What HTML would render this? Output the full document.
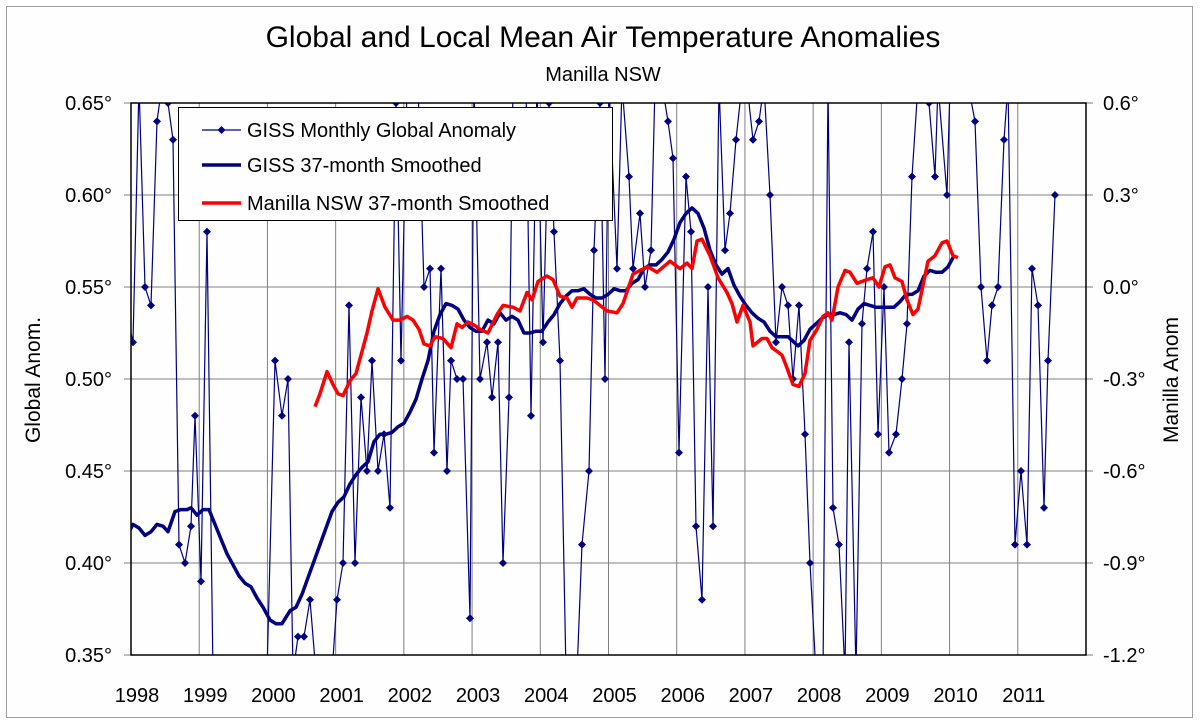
<!DOCTYPE html>
<html><head><meta charset="utf-8"><style>
html,body{margin:0;padding:0;background:#fff;width:1200px;height:721px;overflow:hidden;}
svg{display:block;font-family:"Liberation Sans",Arial,sans-serif;}
</style></head><body>
<svg id="s" width="1200" height="721" viewBox="0 0 1200 721" xmlns="http://www.w3.org/2000/svg">
<rect x="0" y="0" width="1200" height="721" fill="#fdfefd"/>
<rect x="6.5" y="6.5" width="1186" height="711" fill="none" stroke="#a0a0a0" stroke-width="1"/>
<text x="603" y="47" font-size="30" text-anchor="middle">Global and Local Mean Air Temperature Anomalies</text>
<text x="603" y="81" font-size="20" text-anchor="middle">Manilla NSW</text>
<text transform="translate(40,380) rotate(-90)" font-size="21" text-anchor="middle">Global Anom.</text>
<text transform="translate(1178,380) rotate(-90)" font-size="21" text-anchor="middle">Manilla Anom</text>
<g id="grid"></g>
<defs><clipPath id="cp"><rect x="131" y="103" width="955" height="552"/></clipPath></defs>
<g id="data" clip-path="url(#cp)"></g>
<rect x="131" y="103" width="955" height="552" fill="none" stroke="#000" stroke-width="1.5"/>
<g id="leg">
<rect x="178.5" y="107.5" width="434" height="113" fill="#fdfefd" stroke="#000" stroke-width="1"/>
<line x1="202" y1="130" x2="241" y2="130" stroke="#000080" stroke-width="1.2"/>
<path d="M221.5 126 L225.5 130 L221.5 134 L217.5 130Z" fill="#000080"/>
<text x="247" y="137" font-size="20">GISS Monthly Global Anomaly</text>
<line x1="202" y1="165" x2="241" y2="165" stroke="#000080" stroke-width="3.5"/>
<text x="247" y="172" font-size="20">GISS 37-month Smoothed</text>
<line x1="202" y1="203" x2="241" y2="203" stroke="#ff0000" stroke-width="3.5"/>
<text x="247" y="210" font-size="20">Manilla NSW 37-month Smoothed</text>
</g>
</svg>
<script>
(function(){
var NS="http://www.w3.org/2000/svg";
function el(p,t,a,txt){var e=document.createElementNS(NS,t);for(var k in a)e.setAttribute(k,a[k]);if(txt!=null)e.textContent=txt;p.appendChild(e);return e;}
var T0=103,B0=655,L=131,R=1086;
function Y(v){return T0+(0.65-v)*(B0-T0)/0.30;}
var g=document.getElementById('grid');
var ll=["0.65°","0.60°","0.55°","0.50°","0.45°","0.40°","0.35°"];
var rl=["0.6°","0.3°","0.0°","-0.3°","-0.6°","-0.9°","-1.2°"];
for(var i=0;i<7;i++){var y=T0+i*(B0-T0)/6;
 if(i>0&&i<6)el(g,'line',{x1:L,x2:R,y1:y,y2:y,stroke:'#808080','stroke-width':1});
 el(g,'line',{x1:124,x2:L,y1:y,y2:y,stroke:'#808080'});
 el(g,'line',{x1:R,x2:1093,y1:y,y2:y,stroke:'#808080'});
 el(g,'text',{x:112,y:y+7,'font-size':20,'text-anchor':'end'},ll[i]);
 el(g,'text',{x:1103,y:y+7,'font-size':20},rl[i]);}
var yw=(R-L)/14;
for(var j=0;j<14;j++){var x=L+j*yw;
 if(j>0)el(g,'line',{x1:x,x2:x,y1:T0,y2:B0,stroke:'#808080','stroke-width':1});
 el(g,'text',{x:x+6,y:702,'font-size':20,'text-anchor':'middle'},String(1998+j));}
var H=0.66,Lo=0.34;
var m=[[127,0.535],[133,.52],[139,H],[145,.55],[151,.54],[157,.64],[162,H],[168,.65],[173,.63],[179,.41],[185,.40],[191,.42],[195,.48],[201,.39],[207,.58],[213,Lo],[219,Lo],[225,Lo],[231,Lo],[237,Lo],[243,Lo],[249,Lo],[255,Lo],[261,Lo],[267,Lo],[275,.51],[282,.48],[288,.50],[293,Lo],[298,.36],[304,.36],[310,.38],[316,Lo],[321,Lo],[327,Lo],[332,Lo],[337,.38],[343,.40],[349,.54],[355,.40],[361,.49],[367,.45],[372,.51],[378,.45],[384,.47],[390,.43],[396,.65],[401,.51],[407,H],[413,H],[418,H],[424,.55],[430,.56],[434,.46],[441,.56],[447,.45],[451,.51],[457,.50],[463,.50],[470,.37],[474,H],[480,.50],[487,.52],[492,.49],[498,.52],[503,.40],[509,.49],[513,H],[519,H],[526,H],[531,.48],[537,H],[543,.52],[549,.65],[554,.58],[560,.51],[566,Lo],[571,Lo],[577,Lo],[582,.41],[589,.45],[594,.57],[600,.65],[605,.50],[609,H],[617,.56],[622,H],[629,.61],[633,.56],[640,.59],[645,.55],[651,.57],[655,H],[662,H],[668,.64],[673,.62],[679,.46],[686,.61],[691,.58],[696,.42],[702,.38],[708,.55],[713,.42],[719,H],[725,.57],[730,.59],[736,.63],[742,H],[747,H],[753,.63],[759,.64],[764,H],[770,.60],[776,.52],[782,.55],[788,.54],[793,.50],[799,.54],[805,.47],[810,.40],[816,Lo],[823,Lo],[828,H],[833,.43],[839,.41],[845,Lo],[849,.52],[856,Lo],[862,.53],[867,.56],[873,.58],[878,.47],[884,.55],[889,.46],[896,.47],[902,.50],[907,.53],[912,.61],[918,H],[923,H],[929,.65],[935,.61],[938,H],[947,.60],[950,H],[956,H],[962,H],[968,H],[975,.64],[981,.55],[987,.51],[992,.54],[998,.55],[1004,.63],[1008,H],[1015,.41],[1021,.45],[1027,.41],[1032,.56],[1038,.54],[1044,.43],[1048,.51],[1055,.60]];
var sb=[[127,.415],[133,.421],[139,.419],[145,.415],[151,.417],[157,.421],[163,.420],[168,.417],[175,.428],[181,.429],[187,.429],[191,.430],[197,.426],[203,.429],[209,.429],[215,.421],[221,.413],[227,.405],[233,.399],[239,.393],[245,.389],[251,.387],[257,.381],[263,.376],[270,.369],[276,.367],[282,.367],[290,.374],[296,.376],[302,.383],[308,.392],[314,.401],[320,.410],[326,.419],[332,.428],[338,.433],[344,.436],[350,.443],[356,.448],[362,.452],[368,.455],[374,.466],[380,.470],[386,.470],[392,.471],[398,.474],[404,.476],[410,.482],[416,.489],[422,.500],[428,.510],[434,.526],[440,.535],[446,.541],[452,.540],[458,.538],[464,.532],[470,.528],[476,.526],[482,.526],[488,.532],[494,.530],[500,.536],[506,.532],[512,.534],[518,.532],[524,.525],[530,.525],[536,.526],[542,.526],[548,.531],[554,.535],[560,.541],[566,.545],[572,.548],[578,.548],[584,.549],[590,.546],[596,.544],[602,.544],[608,.546],[614,.549],[620,.548],[626,.548],[632,.552],[638,.554],[644,.560],[650,.562],[656,.562],[662,.565],[668,.569],[674,.576],[680,.585],[686,.590],[692,.593],[698,.590],[704,.582],[710,.570],[716,.562],[722,.557],[728,.560],[734,.551],[740,.545],[746,.540],[752,.536],[758,.533],[764,.531],[770,.526],[776,.523],[782,.523],[788,.523],[794,.520],[798,.518],[804,.521],[810,.527],[816,.530],[822,.533],[828,.535],[834,.535],[840,.536],[846,.535],[852,.532],[858,.538],[864,.541],[870,.540],[876,.539],[882,.539],[888,.539],[894,.539],[900,.542],[906,.546],[912,.546],[918,.548],[924,.556],[930,.559],[936,.558],[942,.558],[948,.561],[954,.567]];
var rd=[[315,.485],[320,.492],[327,.504],[333,.497],[338,.492],[343,.491],[350,.499],[356,.503],[362,.515],[367,.525],[372,.537],[378,.549],[385,.539],[393,.532],[400,.532],[407,.534],[413,.532],[419,.527],[424,.519],[430,.518],[435,.523],[443,.522],[451,.517],[457,.530],[462,.528],[468,.531],[475,.529],[480,.527],[488,.525],[497,.535],[503,.540],[513,.539],[520,.537],[527,.547],[532,.543],[538,.553],[547,.556],[553,.554],[560,.545],[567,.544],[572,.539],[577,.544],[587,.544],[593,.543],[600,.540],[607,.537],[617,.536],[623,.541],[633,.557],[640,.559],[648,.561],[657,.558],[670,.564],[680,.560],[687,.563],[692,.560],[697,.575],[702,.576],[710,.567],[718,.555],[727,.547],[732,.541],[737,.531],[743,.540],[750,.531],[753,.518],[762,.522],[767,.522],[772,.517],[777,.515],[782,.513],[787,.506],[793,.497],[799,.496],[805,.503],[810,.521],[817,.527],[823,.534],[828,.536],[832,.532],[838,.550],[845,.559],[850,.558],[857,.552],[867,.554],[873,.555],[879,.550],[885,.561],[890,.562],[895,.555],[902,.553],[907,.543],[913,.535],[918,.538],[928,.564],[935,.567],[942,.574],[947,.575],[953,.567],[958,.566]];
function pts(a){return a.map(function(p){return p[0]+','+Y(p[1]).toFixed(1);}).join(' ');}
var d=document.getElementById('data');
el(d,'polyline',{points:pts(m),fill:'none',stroke:'#000080','stroke-width':1.2});
m.forEach(function(p,i){if(i==0||p[1]==H||p[1]==Lo)return;var x=p[0],y=Y(p[1]);
 el(d,'path',{d:'M'+x+' '+(y-4)+' L'+(x+4)+' '+y+' L'+x+' '+(y+4)+' L'+(x-4)+' '+y+'Z',fill:'#000080'});});
el(d,'polyline',{points:pts(sb),fill:'none',stroke:'#000080','stroke-width':3.5,'stroke-linejoin':'round'});
el(d,'polyline',{points:pts(rd),fill:'none',stroke:'#ff0000','stroke-width':3.5,'stroke-linejoin':'round'});
var s=document.getElementById('s');s.appendChild(document.getElementById('leg'));
})();
</script>
</body></html>
